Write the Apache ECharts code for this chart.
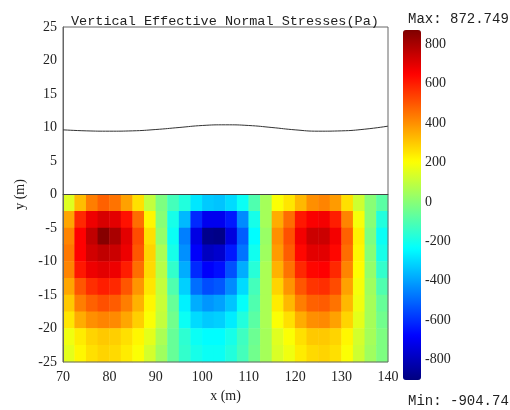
<!DOCTYPE html>
<html>
<head>
<meta charset="utf-8">
<script src="https://cdn.jsdelivr.net/npm/echarts@6/dist/echarts.min.js"></script>
<style>
  html, body { margin: 0; padding: 0; background: #fff; }
  #chart { width: 510px; height: 410px; }
</style>
</head>
<body>
<div id="chart"></div>
<script>
  // cell centres of the stress field (m)
  var xCells = [71.25, 73.75, 76.25, 78.75, 81.25, 83.75, 86.25, 88.75, 91.25, 93.75,
                96.25, 98.75, 101.25, 103.75, 106.25, 108.75, 111.25, 113.75, 116.25,
                118.75, 121.25, 123.75, 126.25, 128.75, 131.25, 133.75, 136.25, 138.75];
  var yCells = [-1.25, -3.75, -6.25, -8.75, -11.25, -13.75, -16.25, -18.75, -21.25, -23.75];

  // vertical effective normal stress (Pa), one row per yCells entry
  var stressRows = [
    [150, 320, 430, 480, 450, 370, 260, 100, -20, -120, -180, -280, -330, -340, -300, -220, -100, 50, 200, 250, 330, 400, 420, 380, 260, 120, 0, -80],
    [360, 580, 680, 720, 700, 620, 460, 220, 0, -200, -360, -610, -710, -710, -640, -440, -200, 50, 350, 460, 610, 660, 670, 600, 420, 190, 0, -180],
    [420, 650, 760, 860, 800, 700, 520, 260, 20, -220, -460, -730, -880, -890, -740, -520, -240, 30, 400, 510, 670, 740, 740, 670, 480, 230, -20, -220],
    [440, 650, 730, 760, 740, 680, 500, 280, 60, -200, -430, -690, -790, -770, -640, -480, -210, 40, 380, 490, 640, 700, 700, 640, 460, 220, 0, -200],
    [420, 610, 680, 700, 680, 600, 460, 270, 80, -150, -380, -610, -690, -660, -540, -380, -170, 60, 340, 450, 580, 640, 650, 580, 420, 210, 20, -150],
    [360, 500, 570, 600, 580, 500, 390, 250, 100, -100, -320, -490, -550, -530, -440, -300, -120, 60, 280, 390, 500, 560, 570, 520, 370, 190, 40, -100],
    [300, 430, 480, 510, 490, 430, 340, 220, 110, -60, -260, -380, -420, -400, -340, -230, -100, 60, 240, 330, 430, 480, 490, 450, 330, 180, 50, -60],
    [250, 350, 400, 420, 410, 360, 290, 200, 100, -40, -220, -300, -330, -320, -270, -180, -80, 60, 200, 260, 350, 400, 410, 370, 280, 160, 50, -40],
    [180, 240, 280, 300, 290, 260, 220, 160, 60, -60, -160, -220, -240, -240, -200, -130, -50, 50, 150, 200, 260, 300, 300, 280, 220, 130, 50, -20],
    [160, 220, 260, 280, 270, 240, 200, 130, 40, -60, -150, -200, -220, -220, -180, -120, -40, 50, 140, 180, 240, 270, 280, 260, 200, 120, 40, -20]
  ];

  // free water surface
  var waveX = [70, 75, 80, 85, 90, 95, 100, 105, 110, 115, 120, 125, 130, 135, 140];
  var waveY = [9.65, 9.5, 9.45, 9.5, 9.7, 10.0, 10.3, 10.4, 10.3, 10.0, 9.65, 9.45, 9.5, 9.75, 10.2];

  // seabed line
  var bedX = [70, 140];
  var bedY = [0, 0];

  var stressMin = -904.74;
  var stressMax = 872.749;
  var colorTicks = [-800, -600, -400, -200, 0, 200, 400, 600, 800];

  var jet = ['#00007f', '#0000ff', '#007fff', '#00ffff', '#7fff7f', '#ffff00', '#ff7f00', '#ff0000', '#7f0000'];

  var heatData = [];
  stressRows.forEach(function (row, j) {
    row.forEach(function (v, i) {
      heatData.push([i, j, v]);
    });
  });
  var waveData = waveX.map(function (x, i) { return [x, waveY[i]]; });
  var bedData = bedX.map(function (x, i) { return [x, bedY[i]]; });

  var serif = '"Liberation Serif", "DejaVu Serif", serif';
  var mono = '"Liberation Mono", "DejaVu Sans Mono", monospace';

  var myChart = echarts.init(document.getElementById('chart'));
  var option = {
    animation: false,
    backgroundColor: '#fff',
    title: [{
      text: 'Vertical Effective Normal Stresses(Pa)',
      left: 66, top: 9,
      textStyle: { fontFamily: mono, fontSize: 13.5, fontWeight: 'normal', color: '#222' }
    }, {
      text: 'Max: 872.749',
      left: 403, top: 7,
      textStyle: { fontFamily: mono, fontSize: 14, fontWeight: 'normal', color: '#222' }
    }, {
      text: 'Min: -904.74',
      left: 403, top: 389,
      textStyle: { fontFamily: mono, fontSize: 14, fontWeight: 'normal', color: '#222' }
    }],
    grid: [
      { left: 63, top: 27, width: 325, height: 335, show: true, borderColor: '#666', borderWidth: 1, backgroundColor: 'transparent', z: 5 },
      { left: 63, top: 194.5, width: 325, height: 167.5, show: false },
      { left: 403, top: 30, width: 18, height: 350, show: false }
    ],
    xAxis: [{
      gridIndex: 0,
      type: 'value',
      min: 70, max: 140, interval: 10,
      name: 'x (m)',
      nameLocation: 'middle',
      nameGap: 25,
      nameTextStyle: { fontFamily: serif, fontSize: 14, color: '#222' },
      axisLine: { show: true, lineStyle: { color: '#666' } },
      axisTick: { show: false },
      splitLine: { show: false },
      axisLabel: { fontFamily: serif, fontSize: 14, color: '#222', margin: 8 },
      z: 6
    }, {
      gridIndex: 1,
      type: 'category',
      data: xCells,
      show: false
    }, {
      gridIndex: 2,
      type: 'value',
      show: false
    }],
    yAxis: [{
      gridIndex: 0,
      type: 'value',
      min: -25, max: 25, interval: 5,
      name: 'y (m)',
      nameLocation: 'middle',
      nameGap: 34,
      nameRotate: 90,
      nameTextStyle: { fontFamily: serif, fontSize: 14, color: '#222' },
      axisLine: { show: true, lineStyle: { color: '#666' } },
      axisTick: { show: false },
      splitLine: { show: false },
      axisLabel: { fontFamily: serif, fontSize: 14, color: '#222', margin: 6 },
      z: 6
    }, {
      gridIndex: 1,
      type: 'category',
      data: yCells,
      inverse: true,
      show: false
    }, {
      gridIndex: 2,
      type: 'value',
      position: 'right',
      min: stressMin, max: stressMax,
      axisLine: { show: false },
      axisTick: { show: false },
      splitLine: { show: false },
      axisLabel: { show: true, customValues: colorTicks, fontFamily: serif, fontSize: 14, color: '#222', margin: 4 },
      z: 10
    }],
    visualMap: {
      type: 'continuous',
      seriesIndex: 0,
      min: stressMin, max: stressMax,
      calculable: false,
      orient: 'vertical',
      left: 403, top: 30,
      padding: 0,
      itemWidth: 18,
      itemHeight: 350,
      text: null,
      showLabel: false,
      inRange: { color: jet }
    },
    series: [{
      name: 'stress',
      type: 'heatmap',
      xAxisIndex: 1,
      yAxisIndex: 1,
      data: heatData,
      emphasis: { disabled: true },
      progressive: 0,
      z: 1
    }, {
      name: 'surface',
      type: 'line',
      xAxisIndex: 0,
      yAxisIndex: 0,
      data: waveData,
      smooth: true,
      symbol: 'none',
      lineStyle: { color: '#333', width: 1 },
      z: 7
    }, {
      name: 'bed',
      type: 'line',
      xAxisIndex: 0,
      yAxisIndex: 0,
      data: bedData,
      symbol: 'none',
      lineStyle: { color: '#444', width: 1 },
      z: 7
    }]
  };
  myChart.setOption(option);
</script>
</body>
</html>
